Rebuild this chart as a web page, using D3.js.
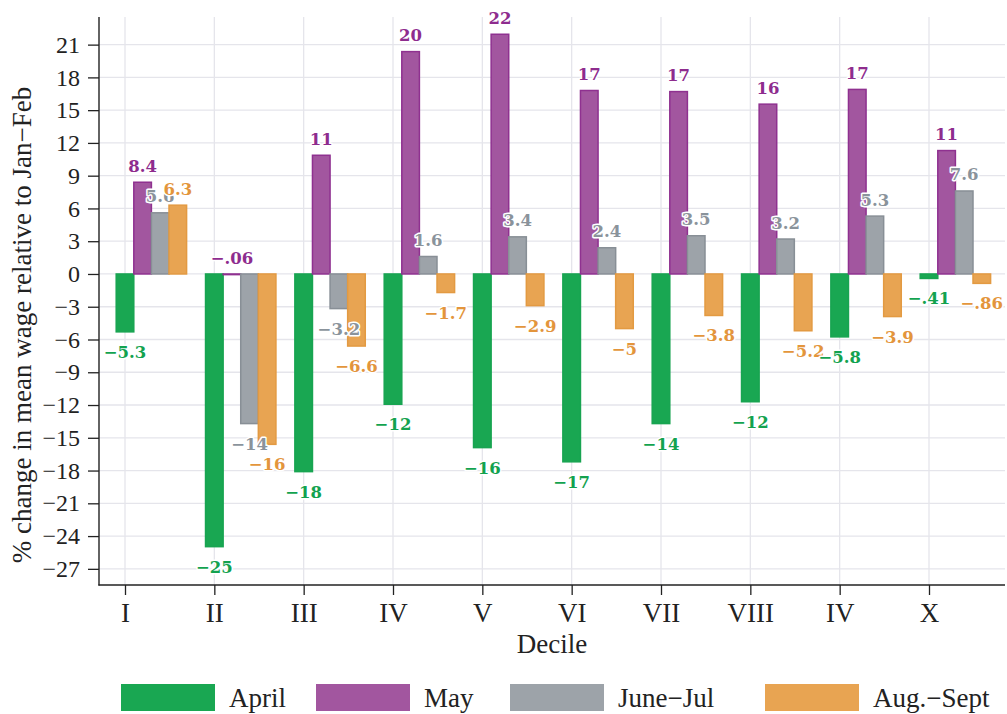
<!DOCTYPE html>
<html>
<head>
<meta charset="utf-8">
<script src="https://cdn.jsdelivr.net/npm/d3@7"></script>
<style>
  html, body { margin: 0; padding: 0; background: #fff; }
  svg { display: block; }
</style>
</head>
<body>
<div id="chart"></div>
<script>
// ---- data ----
const categories = ["I", "II", "III", "IV", "V", "VI", "VII", "VIII", "IV", "X"];
const seriesNames = ["April", "May", "June\u2212Jul", "Aug.\u2212Sept"];
const april   = [-5.3, -24.97, -18.1, -11.93, -15.9, -17.2, -13.7, -11.7, -5.76, -0.41];
const may     = [8.4, -0.06, 10.87, 20.36, 21.95, 16.8, 16.7, 15.55, 16.9, 11.3];
const juneJul = [5.6, -13.7, -3.17, 1.6, 3.4, 2.4, 3.5, 3.2, 5.3, 7.6];
const augSept = [6.3, -15.6, -6.6, -1.7, -2.9, -5.0, -3.8, -5.2, -3.9, -0.86];
const yTicks  = [-27, -24, -21, -18, -15, -12, -9, -6, -3, 0, 3, 6, 9, 12, 15, 18, 21];
const xTitle = "Decile";
const yTitle = "% change in mean wage relative to Jan\u2212Feb";

// ---- styles ----
const fills   = ["#19a752", "#a2569f", "#9da3a9", "#e8a452"];
const strokes = ["#18a451", "#8f3190", "#888f96", "#e39a42"];
const labelColors = ["#13a24f", "#8e2c8e", "#8a939b", "#e3953c"];
const serif = "'Liberation Serif', 'Times New Roman', Times, serif";

const W = 1007, H = 714;
const plot = { left: 99, top: 17, right: 1005, bottom: 585 };

const series = [april, may, juneJul, augSept];

const svg = d3.select("#chart").append("svg").attr("width", W).attr("height", H);

const y = d3.scaleLinear().domain([-28.48, 23.53]).range([plot.bottom, plot.top]);
const x = d3.scalePoint().domain(d3.range(categories.length)).range([125, 929]);
const bw = 17.6;

// grid
const grid = svg.append("g").attr("stroke", "#e5e5eb").attr("stroke-width", 1.3);
grid.selectAll("line.h").data(yTicks).join("line")
  .attr("x1", plot.left).attr("x2", plot.right)
  .attr("y1", d => y(d)).attr("y2", d => y(d));
grid.selectAll("line.v").data(d3.range(categories.length)).join("line")
  .attr("x1", d => x(d)).attr("x2", d => x(d))
  .attr("y1", plot.top).attr("y2", plot.bottom);

// bars
const rows = [];
categories.forEach((c, i) => {
  series.forEach((s, j) => rows.push({ i, k: j, v: s[i] }));
});
const barX = d => x(d.i) - bw / 2 + d.k * bw;
svg.append("g").selectAll("rect").data(rows).join("rect")
  .attr("x", barX)
  .attr("width", bw)
  .attr("y", d => Math.min(y(d.v), y(0)))
  .attr("height", d => Math.max(Math.abs(y(d.v) - y(0)), 0.5))
  .attr("fill", d => fills[d.k])
  .attr("stroke", d => strokes[d.k])
  .attr("stroke-width", 1.5);

// labels
const fmt = v => d3.format(".2")(v).replace(/^(\u2212?)0\./, "$1.");
svg.append("g").selectAll("text").data(rows).join("text")
  .attr("x", d => barX(d) + bw / 2)
  .attr("y", d => d.v < -0.1 ? y(d.v) + 26 : y(d.v) - 10.5)
  .attr("text-anchor", "middle")
  .attr("font-family", "'DejaVu Serif', serif")
  .attr("font-weight", "bold")
  .attr("font-size", 16.5)
  .attr("fill", d => labelColors[d.k])
  .attr("stroke", "#fff")
  .attr("stroke-width", 3)
  .attr("stroke-linejoin", "round")
  .attr("paint-order", "stroke")
  .text(d => fmt(d.v));

// axes
const yAxis = svg.append("g").attr("transform", `translate(${plot.left},0)`)
  .call(d3.axisLeft(y).tickValues(yTicks).tickSize(11).tickPadding(8).tickFormat(d3.format("")));
const xAxis = svg.append("g").attr("transform", `translate(0,${plot.bottom})`)
  .call(d3.axisBottom(x).tickSize(10).tickPadding(8).tickFormat(i => categories[i]));
[yAxis, xAxis].forEach(a => {
  a.attr("font-family", serif);
  a.select(".domain").remove();
  a.selectAll(".tick line").attr("stroke", "#222").attr("stroke-width", 1.3);
  a.selectAll(".tick text").attr("fill", "#222").attr("font-family", serif);
});
yAxis.attr("font-size", 24).selectAll(".tick text").attr("font-size", 24);
xAxis.attr("font-size", 27).selectAll(".tick text").attr("font-size", 27);

svg.append("line").attr("x1", plot.left).attr("x2", plot.left)
  .attr("y1", plot.top).attr("y2", plot.bottom + 0.6)
  .attr("stroke", "#222").attr("stroke-width", 1.4);
svg.append("line").attr("x1", plot.left - 0.6).attr("x2", plot.right)
  .attr("y1", plot.bottom).attr("y2", plot.bottom)
  .attr("stroke", "#222").attr("stroke-width", 1.4);

// titles
svg.append("text")
  .attr("x", (plot.left + plot.right) / 2).attr("y", 653)
  .attr("text-anchor", "middle")
  .attr("font-family", serif).attr("font-size", 27).attr("fill", "#222")
  .text(xTitle);
svg.append("text")
  .attr("transform", `translate(31,325) rotate(-90)`)
  .attr("text-anchor", "middle")
  .attr("font-family", serif).attr("font-size", 27).attr("fill", "#222")
  .text(yTitle);

// legend
const legendX = [121, 316, 510, 765];
const lg = svg.append("g").selectAll("g").data(seriesNames).join("g")
  .attr("transform", (d, j) => `translate(${legendX[j]},684)`);
lg.append("rect").attr("width", 94).attr("height", 27).attr("fill", (d, j) => fills[j]);
lg.append("text").attr("x", 108).attr("y", 23)
  .attr("font-family", serif).attr("font-size", 27).attr("fill", "#222")
  .text(d => d);
</script>
</body>
</html>
